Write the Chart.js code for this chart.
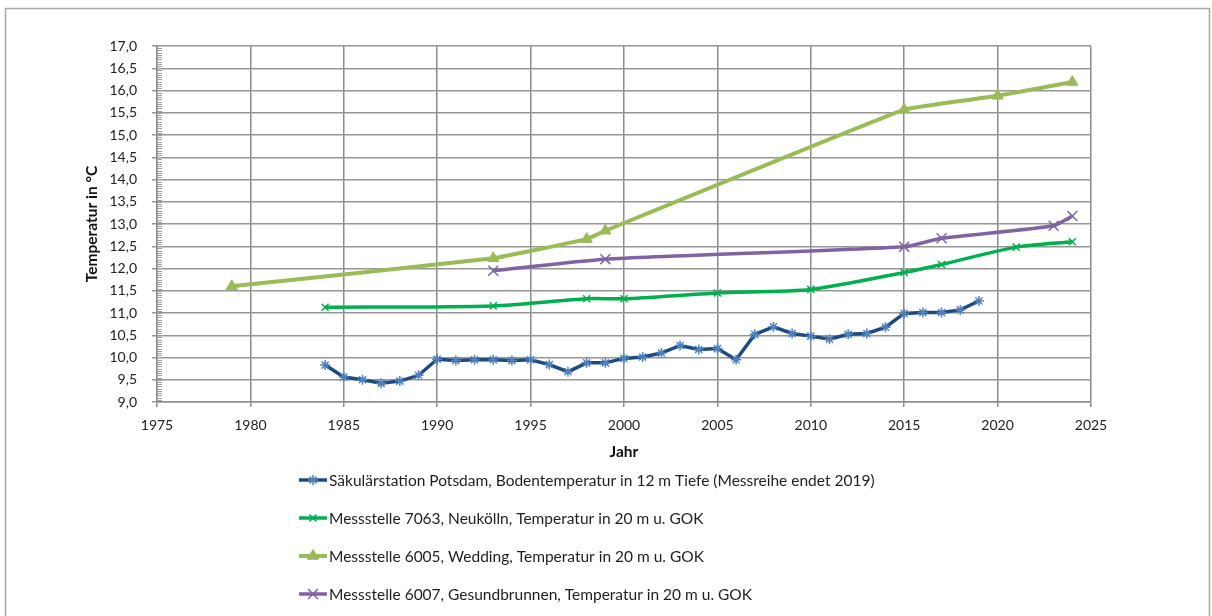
<!DOCTYPE html>
<html>
<head>
<meta charset="utf-8">
<script src="https://cdn.jsdelivr.net/npm/chart.js@4.4.1/dist/chart.umd.min.js"></script>
<style>
    html, body { margin: 0; padding: 0; background: #fff; }
    #wrap { width: 1212px; height: 616px; position: relative; overflow: hidden; }
</style>
</head>
<body>
<div id="wrap"><canvas id="chart" width="1212" height="616"></canvas></div>
<script>
// data
const potsdamYears = [1984, 1985, 1986, 1987, 1988, 1989, 1990, 1991, 1992, 1993, 1994, 1995,
    1996, 1997, 1998, 1999, 2000, 2001, 2002, 2003, 2004, 2005, 2006, 2007, 2008, 2009, 2010,
    2011, 2012, 2013, 2014, 2015, 2016, 2017, 2018, 2019];
const potsdamTemps = [9.83, 9.56, 9.50, 9.42, 9.47, 9.60, 9.96, 9.93, 9.95, 9.95, 9.93, 9.95,
    9.84, 9.68, 9.88, 9.88, 9.98, 10.01, 10.10, 10.27, 10.18, 10.20, 9.95, 10.52, 10.69, 10.54, 10.48,
    10.41, 10.52, 10.54, 10.68, 10.99, 11.01, 11.01, 11.07, 11.27];

const neukoellnYears = [1984, 1993, 1998, 2000, 2005, 2010, 2015, 2017, 2021, 2024];
const neukoellnTemps = [11.13, 11.16, 11.32, 11.32, 11.45, 11.53, 11.91, 12.09, 12.48, 12.60];

const weddingYears = [1979, 1993, 1998, 1999, 2015, 2020, 2024];
const weddingTemps = [11.60, 12.23, 12.66, 12.85, 15.57, 15.88, 16.19];

const gesundbrunnenYears = [1993, 1999, 2015, 2017, 2023, 2024];
const gesundbrunnenTemps = [11.95, 12.21, 12.49, 12.68, 12.96, 13.18];

const seriesLabels = [
    'Säkulärstation Potsdam, Bodentemperatur in 12 m Tiefe (Messreihe endet 2019)',
    'Messstelle 7063, Neukölln, Temperatur in 20 m u. GOK',
    'Messstelle 6005, Wedding, Temperatur in 20 m u. GOK',
    'Messstelle 6007, Gesundbrunnen, Temperatur in 20 m u. GOK'
];

const xTitle = 'Jahr';
const yTitle = 'Temperatur in °C';

function toPoints(xs, ys) {
    return xs.map((x, i) => ({ x: x, y: ys[i] }));
}

const fontFamily = 'Lato, "Open Sans", sans-serif';
Chart.defaults.font.family = fontFamily;
Chart.defaults.font.size = 14;
Chart.defaults.color = '#222';

// white background + outer frame
const framePlugin = {
    id: 'frame',
    beforeDraw(chart) {
        const ctx = chart.ctx;
        ctx.save();
        ctx.fillStyle = '#fff';
        ctx.fillRect(0, 0, chart.width, chart.height);
        ctx.strokeStyle = '#a6a6a6';
        ctx.lineWidth = 1.5;
        ctx.strokeRect(5.5, 8.5, 1204, 700);
        ctx.restore();
    }
};

// small minor ticks along the y axis
const minorTickPlugin = {
    id: 'minorTicks',
    afterDatasetsDraw(chart) {
        const ctx = chart.ctx;
        const y = chart.scales.y;
        const left = chart.chartArea.left;
        ctx.save();
        ctx.strokeStyle = '#a0a0a0';
        ctx.lineWidth = 1;
        for (let v = y.min; v < y.max - 0.001; v += 0.05) {
            const py = Math.round(y.getPixelForValue(v)) + 0.5;
            ctx.beginPath();
            ctx.moveTo(left, py);
            ctx.lineTo(left + 5, py);
            ctx.stroke();
        }
        ctx.restore();
    }
};

// legend: one row per series, line sample with marker
const listLegendPlugin = {
    id: 'listLegend',
    afterDraw(chart) {
        const ctx = chart.ctx;
        const drawPoint = Chart.helpers && Chart.helpers.drawPoint;
        ctx.save();
        chart.data.datasets.forEach((ds, i) => {
            const y = 480 + i * 38;
            ctx.strokeStyle = ds.borderColor;
            ctx.lineWidth = ds.borderWidth;
            ctx.beginPath();
            ctx.moveTo(299, y);
            ctx.lineTo(327, y);
            ctx.stroke();
            if (drawPoint) {
                ctx.strokeStyle = ds.pointBorderColor;
                ctx.fillStyle = ds.pointBackgroundColor;
                ctx.lineWidth = ds.pointBorderWidth;
                drawPoint(ctx, {
                    pointStyle: ds.pointStyle,
                    radius: ds.pointRadius,
                    rotation: 0,
                    borderWidth: ds.pointBorderWidth
                }, 313, y);
            }
            ctx.fillStyle = '#1e1e1e';
            ctx.font = '15.5px ' + fontFamily;
            ctx.textBaseline = 'middle';
            ctx.textAlign = 'left';
            ctx.fillText(ds.label, 329, y + 1);
        });
        ctx.restore();
    }
};

const ctx = document.getElementById('chart').getContext('2d');
const chart = new Chart(ctx, {
    type: 'line',
    data: {
        datasets: [{
            label: seriesLabels[0],
            data: toPoints(potsdamYears, potsdamTemps),
            borderColor: '#1f4a80',
            borderWidth: 3.5,
            pointStyle: 'star',
            pointRadius: 5,
            pointBorderWidth: 1.5,
            pointBorderColor: '#4f81bd',
            pointBackgroundColor: '#4f81bd',
            tension: 0
        }, {
            label: seriesLabels[1],
            data: toPoints(neukoellnYears, neukoellnTemps),
            borderColor: '#00b050',
            borderWidth: 3.5,
            pointStyle: 'crossRot',
            pointRadius: 5,
            pointBorderWidth: 1.5,
            pointBorderColor: '#00b050',
            pointBackgroundColor: '#00b050',
            tension: 0.25
        }, {
            label: seriesLabels[2],
            data: toPoints(weddingYears, weddingTemps),
            borderColor: '#9bbb59',
            borderWidth: 4,
            pointStyle: 'triangle',
            pointRadius: 6.5,
            pointBorderWidth: 1,
            pointBorderColor: '#9bbb59',
            pointBackgroundColor: '#9bbb59',
            tension: 0.08
        }, {
            label: seriesLabels[3],
            data: toPoints(gesundbrunnenYears, gesundbrunnenTemps),
            borderColor: '#8064a2',
            borderWidth: 3.5,
            pointStyle: 'crossRot',
            pointRadius: 7,
            pointBorderWidth: 1.5,
            pointBorderColor: '#8064a2',
            pointBackgroundColor: '#8064a2',
            tension: 0.2
        }]
    },
    options: {
        responsive: false,
        animation: false,
        layout: { padding: { left: 0, top: 46, right: 121, bottom: 149 } },
        plugins: {
            legend: { display: false },
            tooltip: { enabled: false }
        },
        scales: {
            x: {
                type: 'linear',
                min: 1975,
                max: 2025,
                afterFit: function (scale) { scale.height = 65; },
                ticks: {
                    stepSize: 5,
                    padding: 10,
                    color: '#222',
                    callback: v => String(v)
                },
                grid: { color: '#8c8c8c', lineWidth: 1.5, tickLength: 5 },
                border: { color: '#8c8c8c', width: 1.5 },
                title: {
                    display: true,
                    text: xTitle,
                    font: { weight: 'bold', size: 15.5 },
                    color: '#111',
                    padding: { top: 0, bottom: 6 }
                }
            },
            y: {
                min: 9,
                max: 17,
                afterFit: function (scale) { scale.width = 157; },
                ticks: {
                    stepSize: 0.5,
                    padding: 15,
                    color: '#222',
                    callback: v => v.toFixed(1).replace('.', ',')
                },
                grid: { color: '#969696', lineWidth: 1.5, tickLength: 5 },
                border: { color: '#8c8c8c', width: 1.5 },
                title: {
                    display: true,
                    text: yTitle,
                    font: { weight: 'bold', size: 15.5 },
                    color: '#111',
                    padding: { top: 83, bottom: 0 }
                }
            }
        }
    },
    plugins: [framePlugin, minorTickPlugin, listLegendPlugin]
});
</script>
</body>
</html>
